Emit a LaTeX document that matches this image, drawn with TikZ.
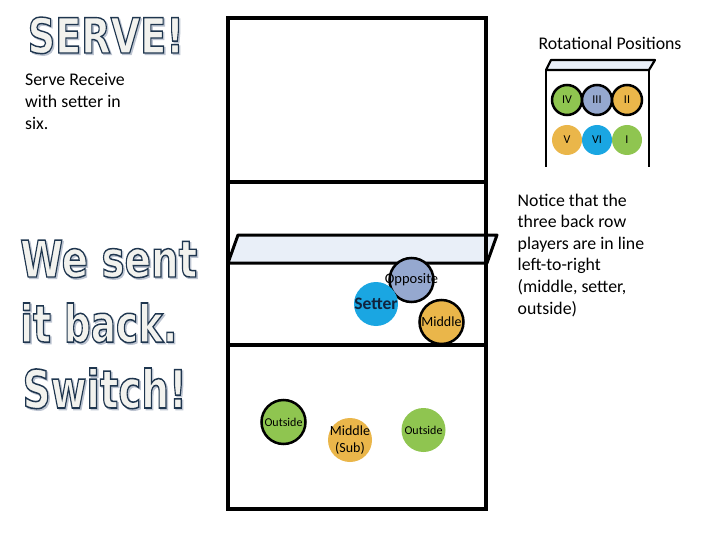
\documentclass[tikz,border=0pt]{standalone}
\usepackage{fontspec}
\setmainfont{Carlito}
\newfontfamily\bigfont{DejaVu Sans}
\definecolor{grn}{HTML}{8FC550}
\definecolor{bgr}{HTML}{95A8CF}
\definecolor{gold}{HTML}{EAB64A}
\definecolor{cyanb}{HTML}{1AA6E2}
\definecolor{netc}{HTML}{E9EFF8}
\definecolor{fillc}{HTML}{F2F2EE}
\definecolor{shadc}{HTML}{BCC5D1}
\definecolor{setc}{HTML}{10243E}
% outlined text: width, height, fill colour, stroke colour (RG), text
\newcommand\outl[5]{\resizebox{#1}{#2}{\fontsize{48}{48}\selectfont\bigfont\bfseries
  \textcolor{#3}{\special{pdf:code 2 Tr 1.4 w #4 RG}#5\special{pdf:code 0 Tr}}}}
\tikzset{
  court/.style={line width=4pt, line join=miter},
  netline/.style={line width=3pt, line join=round},
  boxline/.style={line width=2.2pt, line join=round},
  player/.style={circle, minimum size=44pt, inner sep=0pt},
  rot/.style={circle, minimum size=30pt, inner sep=0pt, font=\fontsize{12}{12}\selectfont},
  bord/.style={draw=black, line width=2.5pt},
  body/.style={inner sep=0pt, align=left, font=\fontsize{17.8}{22}\selectfont},
  lab/.style={inner sep=0pt, align=center},
  big/.style={inner sep=0pt, anchor=base west},
}
\begin{document}
\begin{tikzpicture}[x=1pt,y=-1pt]
\useasboundingbox (0,0) rectangle (720,540);
\fill[white] (0,0) rectangle (720,540);
% outlined titles (shadow first)
\node[big] (serveS) at (29,54.5) {\outl{156pt}{36pt}{shadc}{0.74 0.77 0.82}{SERVE!}};
\node[big] (serve) at (27.5,53) {\outl{156pt}{36pt}{fillc}{0.12 0.21 0.31}{SERVE!}};
\node[big] (sentS) at (21.5,278.5) {\outl{177pt}{37pt}{shadc}{0.74 0.77 0.82}{We sent}};
\node[big] (sent) at (20,277) {\outl{177pt}{37pt}{fillc}{0.12 0.21 0.31}{We sent}};
\node[big] (backS) at (21.5,343.5) {\outl{157pt}{39pt}{shadc}{0.74 0.77 0.82}{it back.}};
\node[big] (back) at (20,342) {\outl{157pt}{39pt}{fillc}{0.12 0.21 0.31}{it back.}};
\node[big] (switchS) at (24,409.5) {\outl{164pt}{40pt}{shadc}{0.74 0.77 0.82}{Switch!}};
\node[big] (switch) at (22.5,408) {\outl{164pt}{40pt}{fillc}{0.12 0.21 0.31}{Switch!}};
% body texts (base anchor = last line's baseline)
\node[body, anchor=base west] (recv) at (25,130) {Serve Receive\\with setter in\\six.};
\node[body, anchor=base] (rottitle) at (610,50) {Rotational Positions};
\node[body, anchor=base west, font=\fontsize{17.8}{21.6}\selectfont] (notice) at (517.5,314)
  {Notice that the\\three back row\\players are in line\\left-to-right\\(middle, setter,\\outside)};
% net
\draw[netline, fill=netc] (228,263) -- (238,235) -- (497,235) -- (487,263) -- cycle;
% court
\draw[court] (228,18) rectangle (486,509);
\draw[court] (228,182) -- (486,182);
\draw[court] (228,345) -- (486,345);
% rotation box
\draw[boxline, fill=netc] (546,70) -- (551,60) -- (655,60) -- (649,70) -- cycle;
\draw[boxline] (546,167) -- (546,70) -- (649,70) -- (649,167);
\node[rot, fill=grn, bord] (r4) at (567,100) {IV};
\node[rot, fill=bgr, bord] (r3) at (597,100) {III};
\node[rot, fill=gold, bord] (r2) at (627,100) {II};
\node[rot, fill=gold] (r5) at (567,140) {V};
\node[rot, fill=cyanb] (r6) at (597,140) {VI};
\node[rot, fill=grn] (r1) at (627,140) {I};
% players
\node[player, fill=bgr, bord] (opp) at (411.5,280) {};
\node[lab, font=\fontsize{14.5}{14.5}\selectfont] (oppL) at (opp.center) {Opposite};
\node[player, fill=cyanb] (set) at (376,304) {};
\node[lab, font=\fontsize{17.5}{17.5}\selectfont\bfseries, text=setc] (setL) at (set.center) {Setter};
\node[player, fill=gold, bord] (mid) at (441.5,322) {};
\node[lab, font=\fontsize{14}{14}\selectfont] (midL) at (mid.center) {Middle};
\node[player, fill=grn, bord] (outL) at (283.5,422) {};
\node[lab, font=\fontsize{12}{12}\selectfont] (outLL) at (outL.center) {Outside};
\node[player, fill=gold] (sub) at (350,440) {};
\node[lab, font=\fontsize{14}{17}\selectfont] (subL) at (sub.center) {Middle\\(Sub)};
\node[player, fill=grn] (outR) at (423.5,430) {};
\node[lab, font=\fontsize{12}{12}\selectfont] (outRL) at (outR.center) {Outside};
\end{tikzpicture}
\end{document}
